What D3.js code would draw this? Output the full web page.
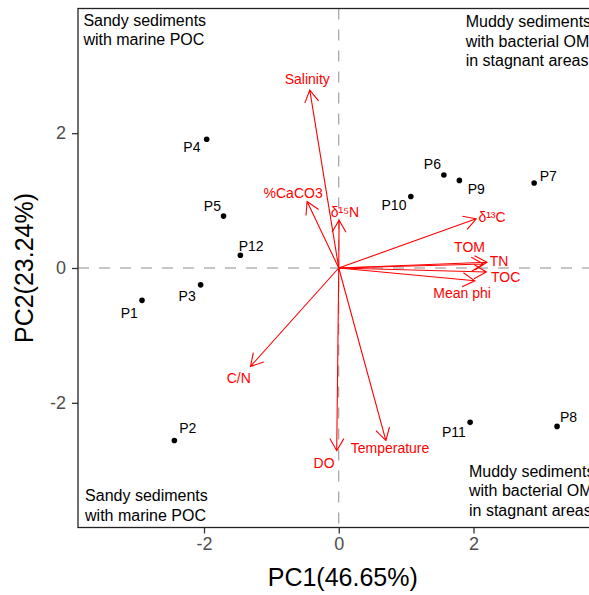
<!DOCTYPE html>
<html><head><meta charset="utf-8">
<script src="https://cdn.jsdelivr.net/npm/d3@7"></script>
<style>body{margin:0;background:#fff}svg{display:block}text{font-family:"Liberation Sans",Arial,Helvetica,sans-serif}</style>
</head><body>
<script>
// Sample scores
const sites = ["P1","P2","P3","P4","P5","P6","P7","P8","P9","P10","P11","P12"];
const sitePC1 = [-2.92,-2.44,-2.05,-1.96,-1.71,1.56,2.90,3.24,1.79,1.07,1.95,-1.46];
const sitePC2 = [-0.48,-2.56,-0.25,1.91,0.77,1.38,1.26,-2.35,1.30,1.06,-2.29,0.19];
const siteLabPC1 = [-3.11,-2.24,-2.25,-2.18,-1.875,1.39,3.11,3.41,2.04,0.82,1.71,-1.30];
const siteLabPC2 = [-0.67,-2.38,-0.41,1.79,0.916,1.54,1.36,-2.21,1.17,0.93,-2.43,0.33];
// Variable loadings (arrows)
const vars = ["Salinity","%CaCO3","δ¹⁵N","δ¹³C","TOM","TN","TOC","Mean phi","C/N","DO","Temperature"];
const varPC1 = [-0.43,-0.47,0.005,2.04,2.15,2.20,2.19,2.02,-1.31,-0.03,0.70];
const varPC2 = [2.64,0.985,0.71,0.73,0.06,0.086,-0.06,-0.19,-1.46,-2.71,-2.56];
const varLabPC1 = [-0.467,-0.677,0.093,2.275,1.941,2.378,2.478,1.830,-1.484,-0.218,0.761];
const varLabPC2 = [2.80,1.11,0.822,0.753,0.304,0.096,-0.141,-0.378,-1.637,-2.896,-2.677];
// Quadrant annotations
const noteText = [["Sandy sediments","with marine POC"],["Muddy sediments","with bacterial OM","in stagnant areas"],["Sandy sediments","with marine POC"],["Muddy sediments","with bacterial OM","in stagnant areas"]];
const notePC1 = [-3.79,1.884,-3.765,1.933];
const notePC2 = [3.59,3.574,-3.46,-3.10];
const xTicks = [-2,0,2];
const yTicks = [-2,0,2];
const xTitle = "PC1(46.65%)";
const yTitle = "PC2(23.24%)";

const W = 589, H = 595;
const L = 78, R = 599.5, T = 8.5, B = 527.5;
const svg = d3.select("body").append("svg").attr("width", W).attr("height", H);
const x = d3.scaleLinear().domain([-3.87, 3.87]).range([L, R]);
const y = d3.scaleLinear().domain([-3.85, 3.85]).range([B, T]);

// reference dashed lines
svg.append("line").attr("x1", x(0)).attr("x2", x(0)).attr("y1", T).attr("y2", B)
  .attr("stroke", "#8c8c8c").attr("stroke-width", 1).attr("stroke-dasharray", "11,10");
svg.append("line").attr("x1", L).attr("x2", R).attr("y1", y(0)).attr("y2", y(0))
  .attr("stroke", "#8c8c8c").attr("stroke-width", 1).attr("stroke-dasharray", "11,10");

// arrows
const g = svg.append("g");
const headLen = 14, headAng = Math.PI / 6;
vars.forEach((v, i) => {
  const x0 = x(0), y0 = y(0), x1 = x(varPC1[i]), y1 = y(varPC2[i]);
  const a = Math.atan2(y1 - y0, x1 - x0);
  const p = d3.path();
  p.moveTo(x0, y0); p.lineTo(x1, y1);
  p.moveTo(x1 - headLen * Math.cos(a - headAng), y1 - headLen * Math.sin(a - headAng));
  p.lineTo(x1, y1);
  p.lineTo(x1 - headLen * Math.cos(a + headAng), y1 - headLen * Math.sin(a + headAng));
  g.append("path").attr("d", p.toString()).attr("fill", "none").attr("stroke", "#ff0000").attr("stroke-width", 1.1);
  g.append("text").attr("x", x(varLabPC1[i])).attr("y", y(varLabPC2[i])).attr("dy", "0.35em")
    .attr("text-anchor", "middle").attr("font-size", 14).attr("fill", "#ff0000").text(v);
});

// points
sites.forEach((s, i) => {
  svg.append("circle").attr("cx", x(sitePC1[i])).attr("cy", y(sitePC2[i])).attr("r", 2.8).attr("fill", "#000");
  svg.append("text").attr("x", x(siteLabPC1[i])).attr("y", y(siteLabPC2[i])).attr("dy", "0.35em")
    .attr("text-anchor", "middle").attr("font-size", 14).attr("fill", "#000").text(s);
});

// notes
noteText.forEach((lines, i) => {
  const t = svg.append("text").attr("x", x(notePC1[i])).attr("y", y(notePC2[i])).attr("font-size", 16).attr("fill", "#000");
  lines.forEach((ln, j) => t.append("tspan").attr("x", x(notePC1[i])).attr("dy", j === 0 ? 0 : 19.4).text(ln));
});

// frame
svg.append("rect").attr("x", L).attr("y", T).attr("width", R - L).attr("height", B - T)
  .attr("fill", "none").attr("stroke", "#222").attr("stroke-width", 1.3);

// axes
const xa = svg.append("g").attr("transform", `translate(0,${B})`)
  .call(d3.axisBottom(x).tickValues(xTicks).tickSize(6).tickPadding(4).tickFormat(d => String(d)));
const ya = svg.append("g").attr("transform", `translate(${L},0)`)
  .call(d3.axisLeft(y).tickValues(yTicks).tickSize(6).tickPadding(6).tickFormat(d => String(d)));
[xa, ya].forEach(a => {
  a.select(".domain").remove();
  a.selectAll(".tick line").attr("stroke", "#333").attr("stroke-width", 1.3);
  a.selectAll(".tick text").attr("fill", "#4d4d4d").attr("font-size", 18).attr("font-family", "Liberation Sans, Arial, sans-serif");
});

svg.append("text").attr("x", (L + R) / 2 + 4).attr("y", 586).attr("text-anchor", "middle")
  .attr("font-size", 25).attr("fill", "#000").text(xTitle);
svg.append("text").attr("transform", `translate(33,${(T + B) / 2}) rotate(-90)`).attr("text-anchor", "middle")
  .attr("font-size", 25).attr("fill", "#000").text(yTitle);
</script>
</body></html>
